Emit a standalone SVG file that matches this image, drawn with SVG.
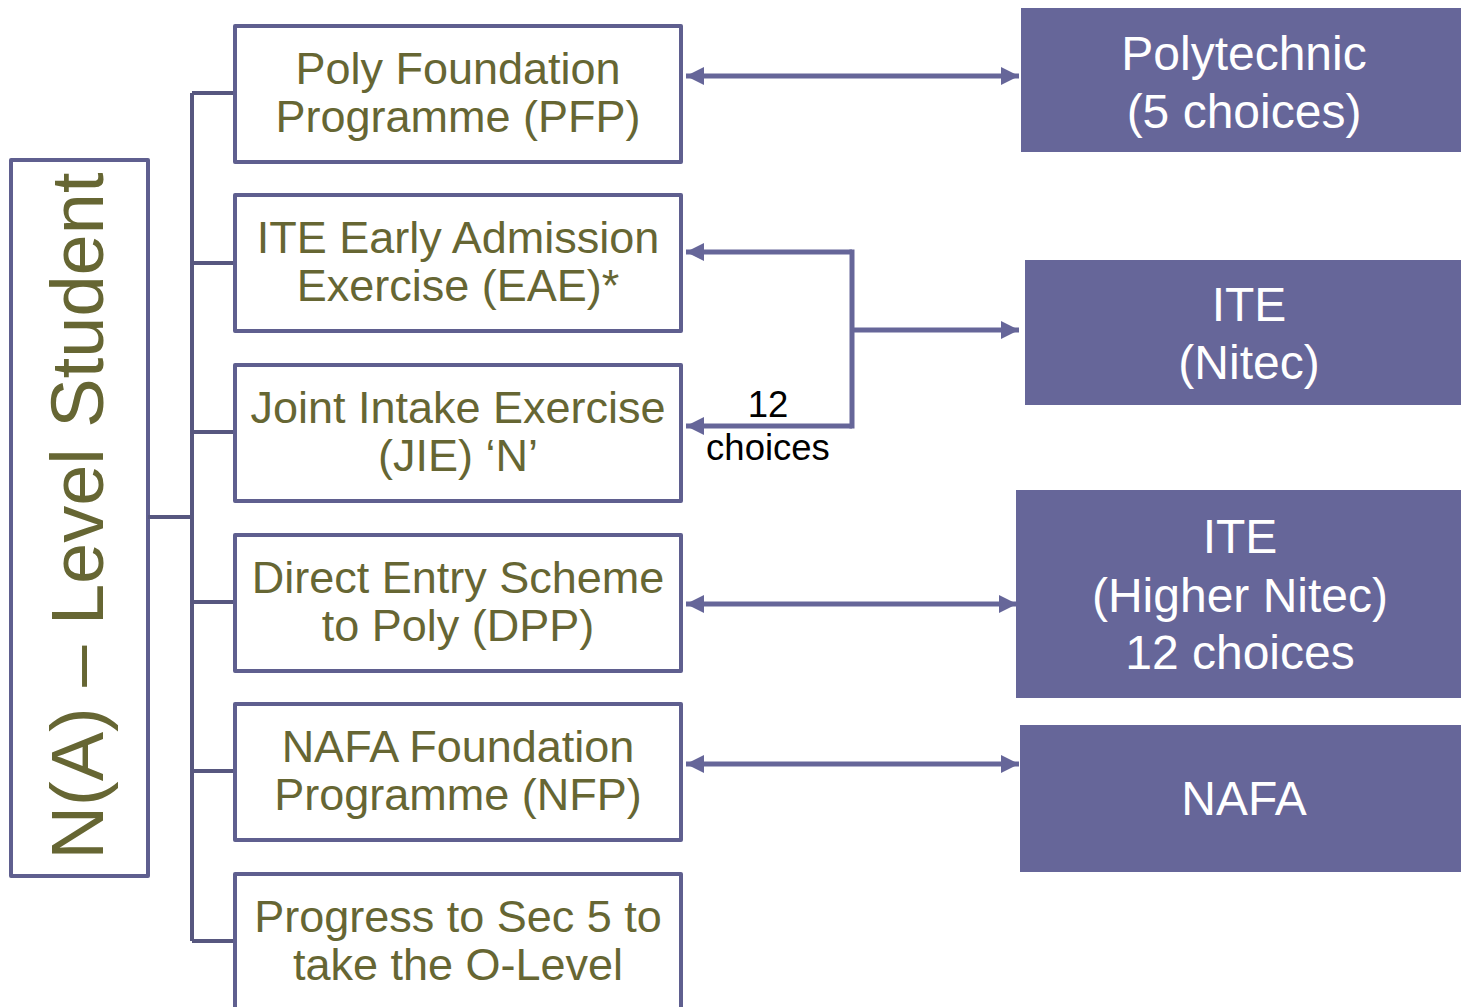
<svg xmlns="http://www.w3.org/2000/svg" width="1461" height="1007" viewBox="0 0 1461 1007">
<style>
.box{fill:#ffffff;stroke:#5f5f8f;stroke-width:4;stroke-linejoin:round}
.dest{fill:#666699;stroke:none}
.lbl{font-family:"Liberation Sans",Arial,sans-serif;font-size:45px;fill:#666633;text-anchor:middle}
.dlbl{font-family:"Liberation Sans",Arial,sans-serif;font-size:48px;fill:#ffffff;text-anchor:middle}
.note{font-family:"Liberation Sans",Arial,sans-serif;font-size:36.5px;fill:#000000;text-anchor:middle}
.br{fill:none;stroke:#57577f;stroke-width:4;stroke-linejoin:round}
.ar{fill:none;stroke:#666699;stroke-width:5}
</style>
<defs>
<marker id="ah" viewBox="0 0 18 18" refX="18" refY="9" markerWidth="18" markerHeight="18" markerUnits="userSpaceOnUse" orient="auto-start-reverse">
<path d="M0,0 L18,9 L0,18 z" fill="#666699"/>
</marker>
</defs>
<g id="root">
<rect class="box" x="11" y="160" width="137" height="716"/>
<text class="lbl" style="font-size:74px" transform="translate(103,516) rotate(-90)">N(A) – Level Student</text>
</g>
<g id="connectors">
<path class="br" d="M148,517 H192 M192,93 V941 M192,93 H235 M192,263 H235 M192,432 H235 M192,602 H235 M192,771 H235 M192,941 H235"/>
<line class="ar" x1="686" y1="76" x2="1019" y2="76" marker-start="url(#ah)" marker-end="url(#ah)"/>
<path class="ar" d="M852,252 H686" marker-end="url(#ah)"/>
<path class="ar" d="M852,426 H686" marker-end="url(#ah)"/>
<path class="ar" d="M852,249.5 V428.5"/>
<path class="ar" d="M852,330 H1019" marker-end="url(#ah)"/>
<line class="ar" x1="686" y1="604" x2="1017" y2="604" marker-start="url(#ah)" marker-end="url(#ah)"/>
<line class="ar" x1="686" y1="764" x2="1019" y2="764" marker-start="url(#ah)" marker-end="url(#ah)"/>
<text class="note" x="768" y="417">12</text>
<text class="note" x="768" y="460">choices</text>
</g>
<g id="pfp">
<rect class="box" x="235" y="26" width="446" height="136"/>
<text class="lbl" x="458" y="84">Poly Foundation</text>
<text class="lbl" x="458" y="132">Programme (PFP)</text>
</g>
<g id="eae">
<rect class="box" x="235" y="195" width="446" height="136"/>
<text class="lbl" x="458" y="253">ITE Early Admission</text>
<text class="lbl" x="458" y="301">Exercise (EAE)*</text>
</g>
<g id="jie">
<rect class="box" x="235" y="365" width="446" height="136"/>
<text class="lbl" x="458" y="423">Joint Intake Exercise</text>
<text class="lbl" x="458" y="471">(JIE) ‘N’</text>
</g>
<g id="dpp">
<rect class="box" x="235" y="535" width="446" height="136"/>
<text class="lbl" x="458" y="593">Direct Entry Scheme</text>
<text class="lbl" x="458" y="641">to Poly (DPP)</text>
</g>
<g id="nfp">
<rect class="box" x="235" y="704" width="446" height="136"/>
<text class="lbl" x="458" y="762">NAFA Foundation</text>
<text class="lbl" x="458" y="810">Programme (NFP)</text>
</g>
<g id="sec5">
<rect class="box" x="235" y="874" width="446" height="140"/>
<text class="lbl" x="458" y="932">Progress to Sec 5 to</text>
<text class="lbl" x="458" y="980">take the O-Level</text>
</g>
<g id="poly">
<rect class="dest" x="1021" y="8" width="440" height="144"/>
<text class="dlbl" x="1244" y="70">Polytechnic</text>
<text class="dlbl" x="1244" y="128">(5 choices)</text>
</g>
<g id="ite-nitec">
<rect class="dest" x="1025" y="260" width="436" height="145"/>
<text class="dlbl" x="1249" y="321">ITE</text>
<text class="dlbl" x="1249" y="379">(Nitec)</text>
</g>
<g id="ite-higher">
<rect class="dest" x="1016" y="490" width="445" height="208"/>
<text class="dlbl" x="1240" y="553">ITE</text>
<text class="dlbl" x="1240" y="612">(Higher Nitec)</text>
<text class="dlbl" x="1240" y="669">12 choices</text>
</g>
<g id="nafa">
<rect class="dest" x="1020" y="725" width="441" height="147"/>
<text class="dlbl" x="1244" y="815">NAFA</text>
</g>
</svg>
